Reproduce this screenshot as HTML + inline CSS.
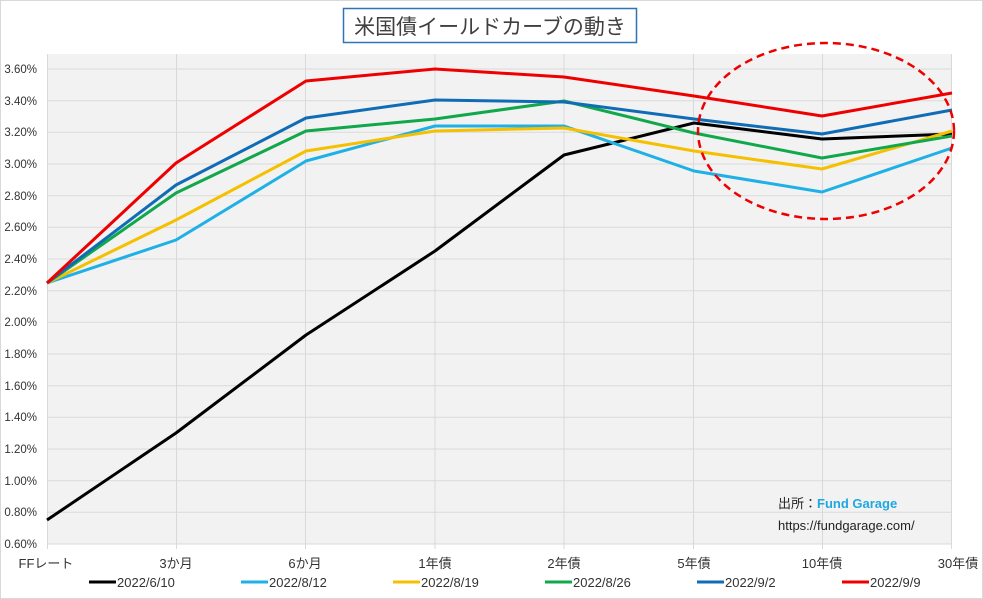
<!DOCTYPE html>
<html><head><meta charset="utf-8"><style>
body{margin:0;background:#fff}
svg{display:block;font-family:"Liberation Sans","Noto Sans CJK JP",sans-serif}
</style></head><body>
<svg width="983" height="599" viewBox="0 0 983 599">
<rect x="0.5" y="0.5" width="982" height="598" fill="#fff" stroke="#d9d9d9"/>
<rect x="47" y="54" width="905" height="490" fill="#f2f2f2"/>
<g stroke="#d9d9d9" stroke-width="1">
<line x1="47" x2="952" y1="69" y2="69"/><line x1="47" x2="952" y1="100.7" y2="100.7"/><line x1="47" x2="952" y1="132.3" y2="132.3"/><line x1="47" x2="952" y1="164" y2="164"/><line x1="47" x2="952" y1="195.7" y2="195.7"/><line x1="47" x2="952" y1="227.3" y2="227.3"/><line x1="47" x2="952" y1="259" y2="259"/><line x1="47" x2="952" y1="290.7" y2="290.7"/><line x1="47" x2="952" y1="322.3" y2="322.3"/><line x1="47" x2="952" y1="354" y2="354"/><line x1="47" x2="952" y1="385.7" y2="385.7"/><line x1="47" x2="952" y1="417.3" y2="417.3"/><line x1="47" x2="952" y1="449" y2="449"/><line x1="47" x2="952" y1="480.7" y2="480.7"/><line x1="47" x2="952" y1="512.3" y2="512.3"/><line x1="47" x2="952" y1="544" y2="544"/>
<line x1="47.5" x2="47.5" y1="54" y2="549"/><line x1="176.5" x2="176.5" y1="54" y2="549"/><line x1="305.5" x2="305.5" y1="54" y2="549"/><line x1="435" x2="435" y1="54" y2="549"/><line x1="564" x2="564" y1="54" y2="549"/><line x1="693.5" x2="693.5" y1="54" y2="549"/><line x1="822.5" x2="822.5" y1="54" y2="549"/><line x1="951.5" x2="951.5" y1="54" y2="549"/>
</g>
<g font-size="11.5" fill="#333" text-anchor="end">
<text x="37" y="73">3.60%</text><text x="37" y="105">3.40%</text><text x="37" y="136">3.20%</text><text x="37" y="168">3.00%</text><text x="37" y="200">2.80%</text><text x="37" y="231">2.60%</text><text x="37" y="263">2.40%</text><text x="37" y="295">2.20%</text><text x="37" y="326">2.00%</text><text x="37" y="358">1.80%</text><text x="37" y="390">1.60%</text><text x="37" y="421">1.40%</text><text x="37" y="453">1.20%</text><text x="37" y="485">1.00%</text><text x="37" y="516">0.80%</text><text x="37" y="548">0.60%</text>
</g>
<g font-size="13" fill="#333" text-anchor="middle">
<text x="46" y="568">FFレート</text><text x="176" y="568">3か月</text><text x="305" y="568">6か月</text><text x="435" y="568">1年債</text><text x="564" y="568">2年債</text><text x="694" y="568">5年債</text><text x="822" y="568">10年債</text><text x="958" y="568">30年債</text>
</g>
<g fill="none" stroke-width="3" stroke-linejoin="round">
<polyline stroke="#000" points="47,520 176,433 306,335 435,251 564,155 694,123 822,139 952,134"/>
<polyline stroke="#1fb0e6" points="47,283 176,240 306,161 435,126 564,126 694,171 822,192 952,148"/>
<polyline stroke="#f5c000" points="47,283 176,220 306,151 435,131 564,128 694,151 822,169 952,131"/>
<polyline stroke="#10a84a" points="47,283 176,193 306,131 435,119 564,101 694,133 822,158 952,136"/>
<polyline stroke="#0f6cb6" points="47,283 176,185 306,118 435,100 564,102 694,119 822,134 952,110"/>
<polyline stroke="#ee0000" points="47,283 176,163 306,81 435,69 564,77 694,96 822,116 952,93"/>
</g>
<ellipse cx="826" cy="131" rx="128" ry="88" fill="none" stroke="#e00" stroke-width="2.5" stroke-dasharray="8,5"/>
<rect x="343.5" y="8.5" width="293" height="34" fill="#fff" stroke="#2e75b6" stroke-width="1.5"/>
<text x="490" y="34" font-size="21" fill="#404040" text-anchor="middle">米国債イールドカーブの動き</text>
<text x="778" y="508" font-size="13" fill="#222">出所：<tspan fill="#1fa8e0" font-weight="bold">Fund Garage</tspan></text>
<text x="778" y="530" font-size="13" fill="#222">https://fundgarage.com/</text>
<g font-size="13" fill="#333">
<line x1="89" x2="116" y1="582" y2="582" stroke="#000" stroke-width="3"/><text x="117" y="587">2022/6/10</text>
<line x1="241" x2="268" y1="582" y2="582" stroke="#1fb0e6" stroke-width="3"/><text x="269" y="587">2022/8/12</text>
<line x1="393" x2="420" y1="582" y2="582" stroke="#f5c000" stroke-width="3"/><text x="421" y="587">2022/8/19</text>
<line x1="545" x2="572" y1="582" y2="582" stroke="#10a84a" stroke-width="3"/><text x="573" y="587">2022/8/26</text>
<line x1="697" x2="724" y1="582" y2="582" stroke="#0f6cb6" stroke-width="3"/><text x="725" y="587">2022/9/2</text>
<line x1="842" x2="869" y1="582" y2="582" stroke="#ee0000" stroke-width="3"/><text x="870" y="587">2022/9/9</text>
</g>
</svg>
</body></html>
